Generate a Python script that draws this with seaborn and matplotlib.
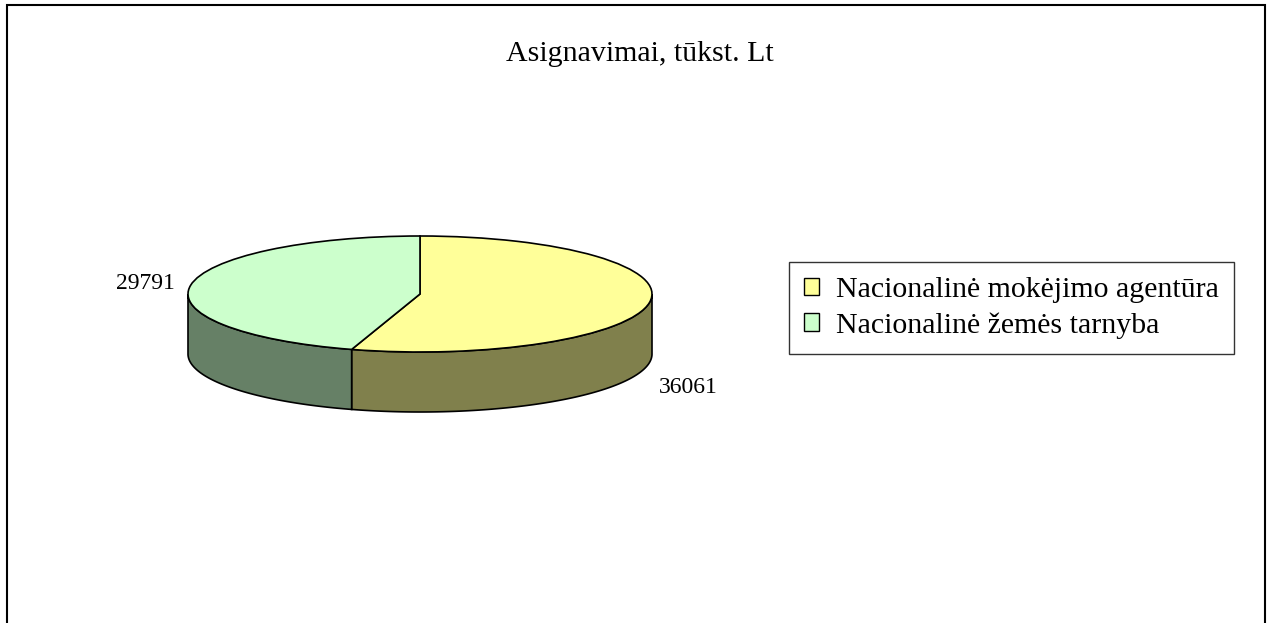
import numpy as np
import seaborn as sns
import matplotlib.pyplot as plt
from matplotlib.patches import Patch, Rectangle

# datos
categorias = ['Nacionalinė mokėjimo agentūra', 'Nacionalinė žemės tarnyba']
valores = [36061, 29791]
colores_top = ['#FFFF99', '#CCFFCC']
colores_lado = ['#80804C', '#668066']
titulo = 'Asignavimai, tūkst. Lt'

sns.set_theme(style='white')
plt.rcParams['font.family'] = ['Liberation Serif', 'DejaVu Serif']
plt.rcParams['text.color'] = 'black'

W, H = 1272, 623
fig = plt.figure(figsize=(W / 100, H / 100), dpi=100)

# marco exterior
fig.patches.append(Rectangle((7 / W, -0.05), (1265 - 7) / W, 1.05 - 5 / H,
                             transform=fig.transFigure, fill=False,
                             edgecolor='black', linewidth=1.5))

# pastel 3D: elipse (rx=232 px, ry=58 px) con profundidad 60 px
cx, cy, rx, ry, prof = 420, 294, 232, 58, 60
d = prof / ry
ax = fig.add_axes([(cx - rx) / W, (H - cy - ry - prof) / H, 2 * rx / W, (2 * ry + prof) / H])

wedges, _ = ax.pie(valores, colors=colores_top, startangle=90, counterclock=False,
                   wedgeprops=dict(edgecolor='black', linewidth=1.2, zorder=3))
ax.set_aspect('auto')
ax.set_xlim(-1, 1)
ax.set_ylim(-1 - d, 1)
ax.axis('off')

# paredes laterales (solo la mitad frontal 180..360 grados)
total = sum(valores)
ang = 90.0
for v, c in zip(valores, colores_lado):
    a1 = ang - 360 * v / total
    for off in (0, 360, -360):
        l, h = max(a1 + off, 180), min(ang + off, 360)
        if h > l:
            t = np.radians(np.linspace(l, h, 200))
            xs = np.concatenate([np.cos(t), np.cos(t[::-1])])
            ys = np.concatenate([np.sin(t), np.sin(t[::-1]) - d])
            ax.fill(xs, ys, facecolor=c, edgecolor='black', linewidth=1.2, zorder=2, clip_on=False)
    # etiqueta del valor
    mid = np.radians((ang + a1) / 2)
    if np.sin(mid) > 0 or np.cos(mid) < -0.95:
        ax.text(1.068 * np.cos(mid), np.sin(mid) + 0.03, str(v), ha='right' if np.cos(mid) < 0 else 'left',
                va='center', fontsize=17)
    else:
        ax.text(1.04 * np.cos(mid), np.sin(mid) - d - 0.43, str(v), ha='left' if np.cos(mid) > 0 else 'right',
                va='center', fontsize=17)
    ang = a1
for w in wedges:
    w.set_clip_on(False)

fig.text(640 / W, 1 - 54 / H, titulo, ha='center', va='center', fontsize=21.5)

handles = [Patch(facecolor=c, edgecolor='black', linewidth=1) for c in colores_top]
leg = fig.legend(handles, categorias, loc='center left', bbox_to_anchor=(789 / W, 1 - 308 / H),
                 frameon=True, fancybox=False, fontsize=21.5, handlelength=0.52, handleheight=0.52,
                 handletextpad=0.55, borderpad=0.5, labelspacing=0.3, borderaxespad=0)
leg.get_frame().set_edgecolor('black')
leg.get_frame().set_linewidth(1)

fig.savefig('out.png', dpi=100)
